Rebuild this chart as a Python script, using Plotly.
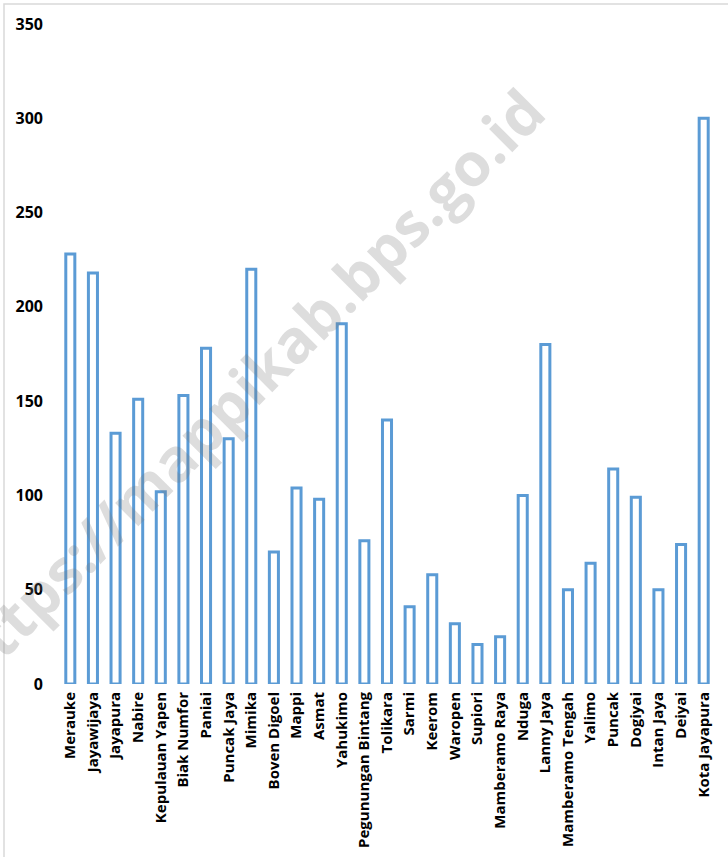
import plotly.graph_objects as go

categories = ["Merauke", "Jayawijaya", "Jayapura", "Nabire", "Kepulauan Yapen", "Biak Numfor",
              "Paniai", "Puncak Jaya", "Mimika", "Boven Digoel", "Mappi", "Asmat", "Yahukimo",
              "Pegunungan Bintang", "Tolikara", "Sarmi", "Keerom", "Waropen", "Supiori",
              "Mamberamo Raya", "Nduga", "Lanny Jaya", "Mamberamo Tengah", "Yalimo", "Puncak",
              "Dogiyai", "Intan Jaya", "Deiyai", "Kota Jayapura"]
values = [228, 218, 133, 151, 102, 153, 178, 130, 220, 70, 104, 98, 191, 76, 140, 41, 58, 32,
          21, 25, 100, 180, 50, 64, 114, 99, 50, 74, 300]
y_ticks = [0, 50, 100, 150, 200, 250, 300, 350]
watermark = "https://mappikab.bps.go.id"

W, H = 728, 857
L, R, T, B = 59, 13, 24, 173
PW, PH = W - L - R, H - T - B
FONT = "Open Sans"

fig = go.Figure(go.Bar(
    x=categories, y=values,
    marker=dict(color="white", line=dict(color="#5B9BD5", width=3)),
))

fig.update_layout(
    width=W, height=H,
    margin=dict(l=L, r=R, t=T, b=B, autoexpand=False),
    paper_bgcolor="white", plot_bgcolor="white",
    bargap=0.6, showlegend=False,
    font=dict(family=FONT, size=15, color="black"),
    xaxis=dict(tickangle=-90, showgrid=False, showline=False, zeroline=False,
               automargin=False,
               tickfont=dict(family=FONT, size=15, color="black", weight="bold"),
               ticklabelstandoff=4),
    yaxis=dict(range=[0, 350], tickvals=y_ticks, showgrid=False, showline=False,
               zeroline=False, automargin=False,
               tickfont=dict(family=FONT, size=16, color="black", weight="bold"),
               ticklabelstandoff=15),
)

fig.add_shape(type="rect", xref="paper", yref="paper",
              x0=(4 - L) / PW, x1=(W + 6 - L) / PW,
              y0=(B - H - 6) / PH, y1=(H - 4 - B) / PH,
              line=dict(color="#D9D9D9", width=1.5), fillcolor="rgba(0,0,0,0)", layer="below")

fig.add_annotation(text=watermark, xref="paper", yref="paper",
                   x=(246 - L) / PW, y=(H - 386 - B) / PH,
                   xanchor="center", yanchor="middle",
                   showarrow=False, textangle=-45,
                   font=dict(family=FONT, size=60, color="rgba(120,120,120,0.25)", weight="bold"))

fig.write_html("out.html", config={"displayModeBar": False},
               post_script="document.body.style.margin='0';document.body.style.overflow='hidden';")
